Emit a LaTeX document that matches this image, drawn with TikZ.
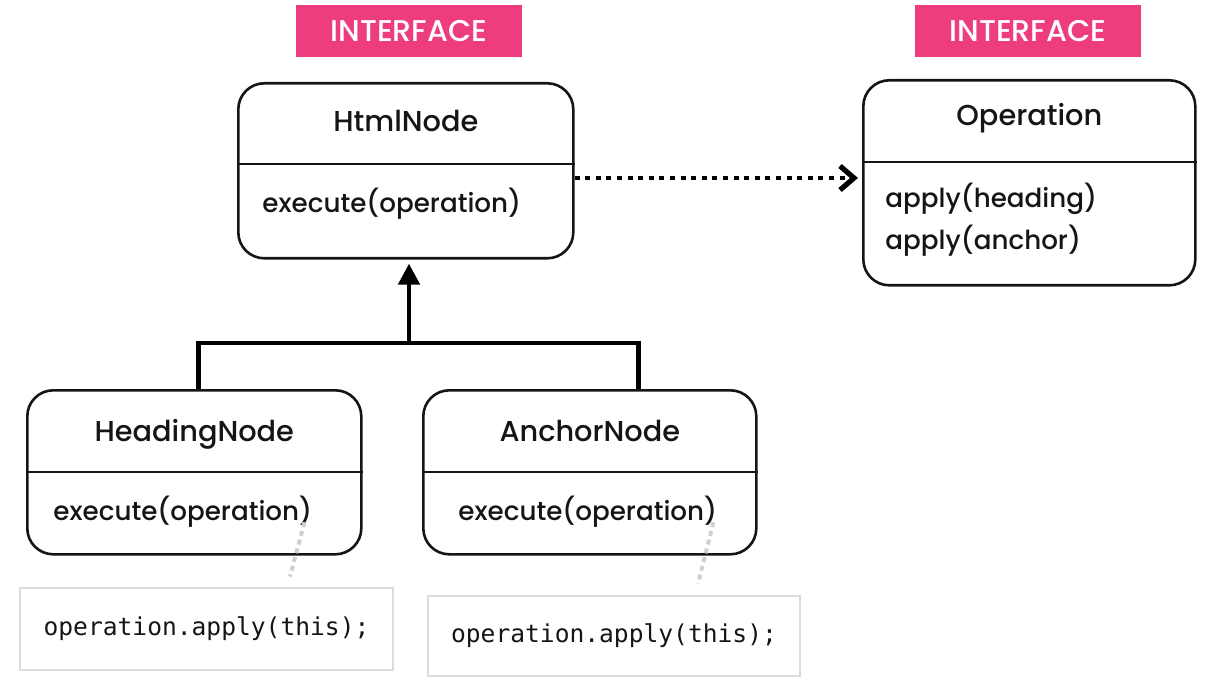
\documentclass[tikz,border=0pt]{standalone}
\usepackage{fontspec}
\setmainfont{Poppins}[UprightFont={* Medium}]
\setmonofont{DejaVu Sans Mono}
\newfontfamily\tagfont{Poppins}[UprightFont={* Medium}]
\usetikzlibrary{positioning,arrows.meta}
\definecolor{tagpink}{HTML}{EE3D7F}
\definecolor{inkdark}{HTML}{151515}
\definecolor{codeline}{HTML}{DCDCDC}
\definecolor{noteline}{HTML}{D0D0D0}

\begin{document}
\begin{tikzpicture}[
  x=0.5pt, y=-0.5pt,
  font=\fontsize{13.1}{16}\selectfont, text=inkdark,
  tag/.style={fill=tagpink, text=white, minimum width=113pt,
              minimum height=26pt, inner sep=0pt,
              font=\tagfont\fontsize{15}{18}\selectfont},
  classbox/.style={draw=inkdark, line width=1.3pt, rounded corners=13pt,
                   anchor=north west, inner sep=0pt},
  ctitle/.style={anchor=base, inner sep=0pt, font=\fontsize{14.4}{17}\selectfont},
  member/.style={anchor=base west, inner sep=0pt},
  divider/.style={draw=inkdark, line width=1.2pt},
  codebox/.style={draw=codeline, line width=1.4pt, inner sep=0pt,
                  minimum width=186pt, minimum height=40.5pt,
                  font=\ttfamily\fontsize{12.3}{14}\selectfont},
  depend/.style={dash pattern=on 2.5pt off 2.8pt, line width=2.2pt,
                 -{Straight Barb[length=7pt, width=12pt, line width=2.6pt]},
                 shorten >=2pt},
  genline/.style={line width=2.4pt},
  inherit/.style={line width=2.4pt, -{Triangle[length=10.5pt, width=10.5pt]},
                  shorten >=2pt},
  note/.style={draw=noteline, line width=2pt, dash pattern=on 2.5pt off 2pt},
]
\useasboundingbox (0,0) rectangle (1208,678);

\node[tag] (tagHtml) at (409,31) {INTERFACE};
\node[tag] (tagOp) at (1028,31) {INTERFACE};

\node[classbox, minimum width=167.5pt, minimum height=87.5pt] (html) at (237,82) {};
\node[ctitle] (htmlT) at ([yshift=-25pt]html.north) {HtmlNode};
\draw[divider] ([yshift=-41pt]html.north west) -- ([yshift=-41pt]html.north east);
\node[member] (htmlM) at ([xshift=12.5pt, yshift=-65.5pt]html.north west) {execute(operation)};

\node[classbox, minimum width=166pt, minimum height=102.5pt] (op) at (862,79) {};
\node[ctitle] (opT) at ([yshift=-23.5pt]op.north) {Operation};
\draw[divider] ([yshift=-41.5pt]op.north west) -- ([yshift=-41.5pt]op.north east);
\node[member] (opM1) at ([xshift=11.5pt, yshift=-64.5pt]op.north west) {apply(heading)};
\node[member] (opM2) at ([xshift=11.5pt, yshift=-85.5pt]op.north west) {apply(anchor)};

\node[classbox, minimum width=167pt, minimum height=82pt] (heading) at (26,389) {};
\node[ctitle] (headT) at ([yshift=-26pt]heading.north) {HeadingNode};
\draw[divider] ([yshift=-41.5pt]heading.north west) -- ([yshift=-41.5pt]heading.north east);
\node[member] (headM) at ([xshift=13.5pt, yshift=-65.5pt]heading.north west) {execute(operation)};

\node[classbox, minimum width=166.5pt, minimum height=82pt] (anchor) at (422,389) {};
\node[ctitle] (anchT) at ([yshift=-26pt]anchor.north) {AnchorNode};
\draw[divider] ([yshift=-41.5pt]anchor.north west) -- ([yshift=-41.5pt]anchor.north east);
\node[member] (anchM) at ([xshift=18pt, yshift=-65.5pt]anchor.north west) {execute(operation)};

\node[codebox, minimum width=186.5pt, minimum height=41pt] (code1) at (206.5,629) {operation.apply(this);};
\node[codebox, minimum height=40pt] (code2) at (614,636) {operation.apply(this);};

\draw[depend] ([yshift=-48pt]html.north east) -- ([yshift=-49.5pt]op.north west);

\coordinate (join) at (409,343);
\draw[genline] ([xshift=2pt]heading.north) |- (join) -| ([xshift=24.25pt]anchor.north);
\draw[inherit] (join) -- (join |- html.south);

\draw[note] ([xshift=-4pt, yshift=2.5pt]headM.south east) -- ([xshift=41.75pt, yshift=5pt]code1.north);
\draw[note] ([xshift=-2pt, yshift=2.5pt]anchM.south east) -- ([xshift=42pt, yshift=5.5pt]code2.north);
\end{tikzpicture}
\end{document}
